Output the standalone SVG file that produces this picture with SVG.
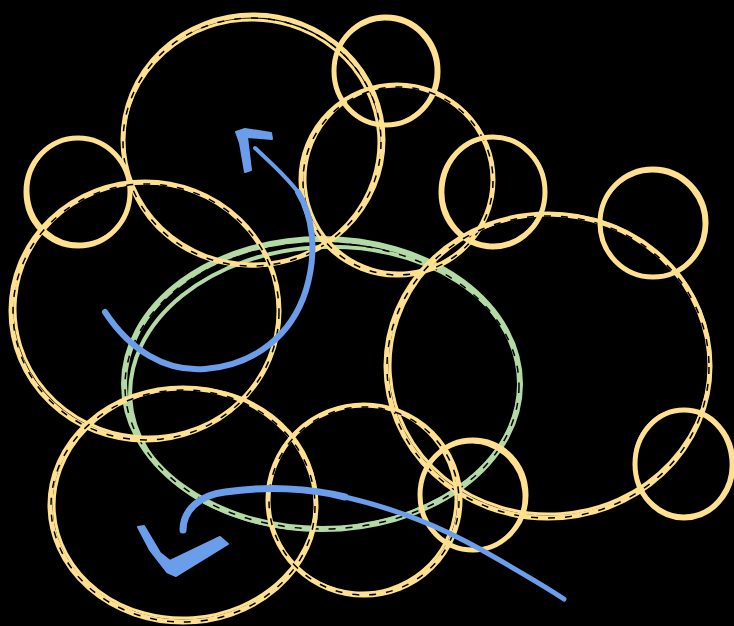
<svg xmlns="http://www.w3.org/2000/svg" width="734" height="626" viewBox="0 0 734 626">
<style>
.y{fill:none;stroke:#ffe08f;stroke-width:5;stroke-linecap:round}
.y2{fill:none;stroke:#ffe08f;stroke-width:3}
.g{fill:none;stroke:#b3d9a5;stroke-width:6}
.g2{fill:none;stroke:#b3d9a5;stroke-width:4}
.d{fill:none;stroke:#000;stroke-width:1.5;stroke-dasharray:7 10}
.b{fill:none;stroke:#6b9eea;stroke-linecap:round;stroke-linejoin:round}
</style>
<rect width="734" height="626" fill="#000"/>
<g id="green">
<ellipse class="g" cx="322" cy="384" rx="198" ry="145"/>
<ellipse class="g2" cx="325" cy="388" rx="195" ry="141" transform="rotate(-3 325 388)"/>
<ellipse class="d" cx="322" cy="386" rx="197" ry="143"/>
</g>
<g id="circles">
<g id="c1"><ellipse class="y" cx="253" cy="140" rx="130" ry="125"/><ellipse class="y2" cx="251" cy="143" rx="128" ry="123" transform="rotate(-4 251 143)"/><ellipse class="d" cx="252" cy="142" rx="129" ry="124"/></g>
<g id="c2"><ellipse class="y" cx="386" cy="71" rx="52" ry="54"/><ellipse class="y2" cx="385" cy="72" rx="51" ry="53" transform="rotate(6 385 72)"/></g>
<g id="c3"><ellipse class="y" cx="397" cy="180" rx="96" ry="95"/><ellipse class="y2" cx="399" cy="179" rx="94" ry="94" transform="rotate(-5 399 179)"/><ellipse class="d" cx="398" cy="181" rx="95" ry="94"/></g>
<g id="c4"><ellipse class="y" cx="493" cy="192" rx="52" ry="55"/><ellipse class="y2" cx="494" cy="191" rx="51" ry="54" transform="rotate(8 494 191)"/></g>
<g id="c5"><ellipse class="y" cx="78" cy="192" rx="52" ry="54"/><ellipse class="y2" cx="79" cy="191" rx="51" ry="53" transform="rotate(-6 79 191)"/></g>
<g id="c6"><ellipse class="y" cx="145" cy="311" rx="134" ry="129"/><ellipse class="y2" cx="147" cy="310" rx="132" ry="127" transform="rotate(5 147 310)"/><ellipse class="d" cx="146" cy="312" rx="133" ry="128"/></g>
<g id="c7"><ellipse class="y" cx="548" cy="366" rx="162" ry="152"/><ellipse class="y2" cx="550" cy="364" rx="160" ry="150" transform="rotate(-4 550 364)"/><ellipse class="d" cx="548" cy="367" rx="161" ry="151"/></g>
<g id="c8"><ellipse class="y" cx="653" cy="223" rx="53" ry="54"/><ellipse class="y2" cx="652" cy="224" rx="52" ry="53" transform="rotate(6 652 224)"/></g>
<g id="c9"><ellipse class="y" cx="684" cy="464" rx="49" ry="54"/><ellipse class="y2" cx="683" cy="463" rx="48" ry="53" transform="rotate(-7 683 463)"/></g>
<g id="c10"><ellipse class="y" cx="183" cy="505" rx="133" ry="117"/><ellipse class="y2" cx="185" cy="503" rx="131" ry="115" transform="rotate(-4 185 503)"/><ellipse class="d" cx="183" cy="506" rx="132" ry="116"/></g>
<g id="c11"><ellipse class="y" cx="364" cy="500" rx="96" ry="95"/><ellipse class="y2" cx="362" cy="499" rx="94" ry="94" transform="rotate(5 362 499)"/><ellipse class="d" cx="364" cy="501" rx="95" ry="94"/></g>
<g id="c12"><ellipse class="y" cx="473" cy="495" rx="53" ry="55"/><ellipse class="y2" cx="472" cy="496" rx="52" ry="54" transform="rotate(-6 472 496)"/></g>
</g>
<g id="connectors">
<path class="b" stroke-width="6" d="M105,312 C130,350 165,372 205,369 C255,365 292,335 306,290 C318,250 312,215 298,192"/>
<path class="b" stroke-width="4" d="M298,192 C285,175 268,160 255,148"/>
<path fill="#6b9eea" stroke="#6b9eea" stroke-width="2" stroke-linejoin="round" d="M236,132 L245,129 L271,133 L272,139 L247,137 L251,170 L245,172 L240,143 Z"/>
<path class="b" stroke-width="7" d="M183,530 C183,510 200,495 225,492 C265,486 310,488 345,497"/>
<path class="b" stroke-width="5" d="M345,497 C400,510 440,527 480,549 C510,566 540,583 564,599"/>
<path fill="#6b9eea" stroke="#6b9eea" stroke-width="2" stroke-linejoin="round" d="M138,527 L144,526 L160,553 L170,561 L220,537 L228,544 L176,576 L167,572 L150,550 Z"/>
</g>
</svg>
